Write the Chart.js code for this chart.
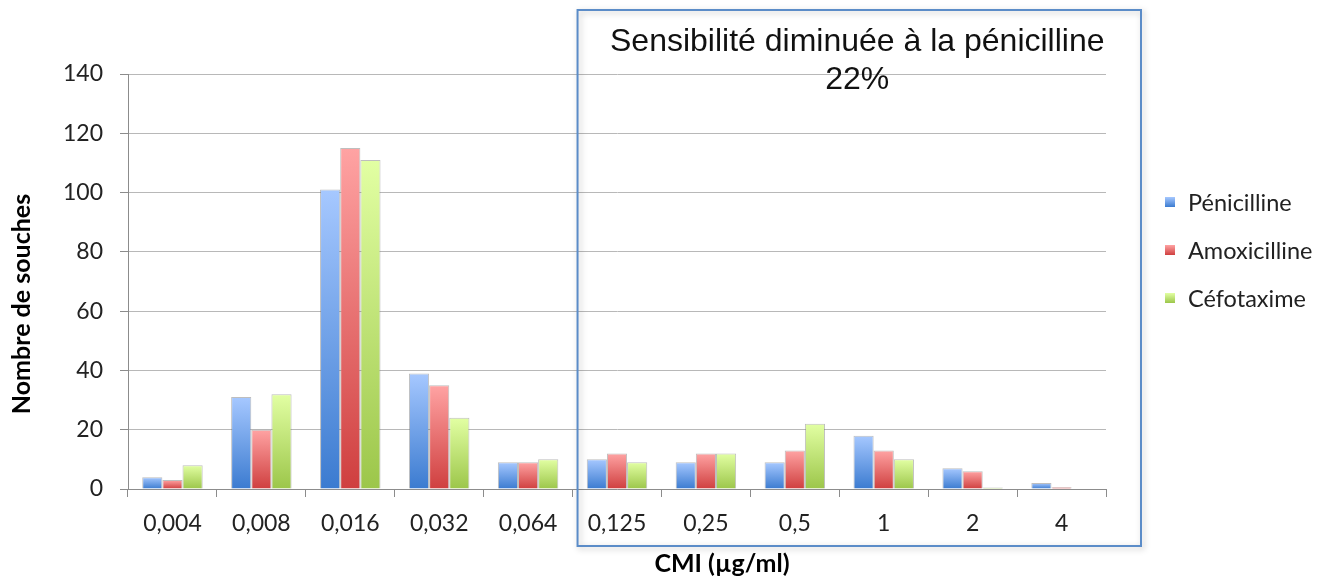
<!DOCTYPE html>
<html lang="fr">
<head>
<meta charset="utf-8">
<script src="https://cdn.jsdelivr.net/npm/chart.js@4/dist/chart.umd.min.js"></script>
<style>
  html, body { margin: 0; padding: 0; background: #fff; }
  #wrap { width: 1318px; height: 577px; position: relative; }
</style>
</head>
<body>
<div id="wrap"><canvas id="c" width="1318" height="577"></canvas></div>
<script>
// MIC categories (µg/ml)
const categories = ['0,004', '0,008', '0,016', '0,032', '0,064', '0,125', '0,25', '0,5', '1', '2', '4'];
// Number of strains per MIC for each antibiotic
const penicilline = [4, 31, 101, 39, 9, 10, 9, 9, 18, 7, 2];
const amoxicilline = [3, 20, 115, 35, 9, 12, 12, 13, 13, 6, 0.6];
const cefotaxime = [8, 32, 111, 24, 10, 9, 12, 22, 10, 0.5, 0];
const seriesNames = ['Pénicilline', 'Amoxicilline', 'Céfotaxime'];
const yTicks = [0, 20, 40, 60, 80, 100, 120, 140];
const boxTitle = ['Sensibilité diminuée à la pénicilline', '22%'];
const boxFrom = '0,125';

const FONT = 'Lato, "Open Sans", sans-serif';
const palette = [
  { top: '#a6c8ff', bottom: '#3b7bd0', solid: '#6a9ee6' },
  { top: '#ffa3a3', bottom: '#cf3f3f', solid: '#e86f6f' },
  { top: '#e2ffa3', bottom: '#9cc64a', solid: '#c0e27a' }
];

function barFill(idx) {
  return function (ctx) {
    const p = palette[idx];
    const chart = ctx.chart;
    if (!chart.chartArea || ctx.type !== 'data') return p.solid;
    const y = chart.scales.y;
    const top = y.getPixelForValue(ctx.raw);
    const bottom = y.getPixelForValue(0);
    if (bottom - top < 2) return p.bottom;
    const g = chart.ctx.createLinearGradient(0, top, 0, bottom);
    g.addColorStop(0, p.top);
    g.addColorStop(1, p.bottom);
    return g;
  };
}

// Framed annotation over the reduced-susceptibility MIC range, plus legend and axis titles
const overlay = {
  id: 'overlay',
  afterDraw(chart) {
    const c = chart.ctx;
    const xs = chart.scales.x;
    const i0 = categories.indexOf(boxFrom);
    const left = xs.getPixelForValue(i0) - (xs.getPixelForValue(1) - xs.getPixelForValue(0)) / 2 + 5;
    const right = 1141, top = 10, bottom = 546;

    c.save();
    c.shadowColor = 'rgba(0,0,0,0.25)';
    c.shadowBlur = 6;
    c.shadowOffsetX = 2;
    c.shadowOffsetY = 2;
    c.strokeStyle = '#5b8cc8';
    c.lineWidth = 2;
    c.strokeRect(left, top, right - left, bottom - top);
    c.restore();

    c.save();
    c.fillStyle = '#111';
    c.textAlign = 'center';
    c.textBaseline = 'middle';
    c.font = '32px "Liberation Sans", Arial, sans-serif';
    const cx = (left + right) / 2 - 2;
    c.fillText(boxTitle[0], cx, 42);
    c.fillText(boxTitle[1], cx, 80);
    c.restore();

    // legend
    c.save();
    c.font = '23.5px ' + FONT;
    c.textBaseline = 'middle';
    c.textAlign = 'left';
    const rows = [202, 250, 298];
    seriesNames.forEach((name, i) => {
      const p = palette[i];
      const g = c.createLinearGradient(0, rows[i] - 5, 0, rows[i] + 5);
      g.addColorStop(0, p.top);
      g.addColorStop(1, p.bottom);
      c.fillStyle = g;
      c.fillRect(1165, rows[i] - 5, 10, 10);
      c.fillStyle = '#222';
      c.fillText(name, 1188, rows[i] + 1);
    });
    c.restore();

    // axis titles
    c.save();
    c.fillStyle = '#000';
    c.font = 'bold 25px ' + FONT;
    c.textAlign = 'center';
    c.textBaseline = 'middle';
    c.fillText('CMI (µg/ml)', 722, 564);
    c.translate(22, 304);
    c.rotate(-Math.PI / 2);
    c.fillText('Nombre de souches', 0, 0);
    c.restore();
  }
};

new Chart(document.getElementById('c'), {
  type: 'bar',
  data: {
    labels: categories,
    datasets: [penicilline, amoxicilline, cefotaxime].map((d, i) => ({
      label: seriesNames[i],
      data: d,
      backgroundColor: barFill(i),
      borderColor: 'rgba(110,110,110,0.45)',
      borderWidth: 1,
      categoryPercentage: 0.68,
      barPercentage: 1.0
    }))
  },
  options: {
    responsive: false,
    animation: false,
    devicePixelRatio: 1,
    layout: { padding: { left: 0, right: 212, top: 74, bottom: 0 } },
    plugins: {
      legend: { display: false },
      tooltip: { enabled: false }
    },
    scales: {
      x: {
        grid: {
          offset: true,
          drawOnChartArea: false,
          drawTicks: true,
          tickLength: 8,
          color: '#8c8c8c'
        },
        border: { color: '#8c8c8c', width: 1 },
        ticks: {
          color: '#222',
          font: { family: FONT, size: 23 },
          padding: 13,
          maxRotation: 0
        },
        afterFit(scale) { scale.height = 88; }
      },
      y: {
        min: 0,
        max: 140,
        afterBuildTicks(scale) { scale.ticks = yTicks.map(v => ({ value: v })); },
        grid: {
          color: '#b8b8b8',
          tickLength: 8,
          tickColor: '#8c8c8c'
        },
        border: { color: '#8c8c8c', width: 1 },
        ticks: {
          color: '#222',
          font: { family: FONT, size: 23 },
          padding: 17
        },
        afterFit(scale) { scale.width = 128; }
      }
    }
  },
  plugins: [overlay]
});
</script>
</body>
</html>
